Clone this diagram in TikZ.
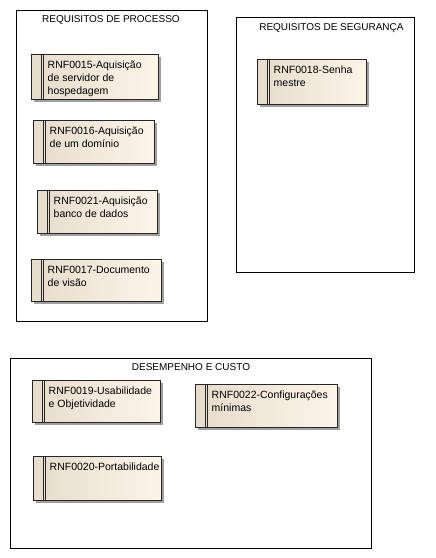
\documentclass[tikz,border=0pt]{standalone}
\usepackage{fontspec}
\setmainfont{Liberation Sans}
\usetikzlibrary{shadows}
\definecolor{reqL}{RGB}{230,220,204}
\definecolor{reqR}{RGB}{252,245,232}
\definecolor{shadowc}{RGB}{160,160,160}
\tikzset{
  pkg/.style={draw=black, line width=0.9pt, fill=white, anchor=north west, inner sep=0pt},
  pkgtitle/.style={font=\fontsize{10}{12}\selectfont, inner sep=0pt, anchor=north},
  req/.style={draw=black!85, line width=0.8pt, left color=reqL, right color=reqR,
    anchor=north west, inner sep=0pt,
    drop shadow={shadow xshift=3pt, shadow yshift=-3pt, fill=shadowc, opacity=1}},
  reqtext/.style={font=\fontsize{10.5}{13}\selectfont, align=left, inner sep=0pt, anchor=north west},
  bandline/.style={draw=black!85, line width=0.7pt}
}
\newcommand{\reqbox}[6]{%
  % #1 name, #2 x, #3 y, #4 width, #5 height, #6 text
  \node[req, minimum width=#4pt, minimum height=#5pt] (#1) at (#2,#3) {};
  \draw[bandline] ([xshift=10pt]#1.north west) -- ([xshift=10pt]#1.south west);
  \draw[bandline] ([xshift=12.5pt]#1.north west) -- ([xshift=12.5pt]#1.south west);
  \node[reqtext] (#1t) at ([xshift=16.5pt,yshift=-6.5pt]#1.north west) {#6};
}
\begin{document}
\begin{tikzpicture}[x=1pt,y=-1pt]
\useasboundingbox[fill=white] (0,0) rectangle (436,558);
% packages
\node[pkg, minimum width=191pt, minimum height=311pt] (p1) at (16,10) {};
\node[pkgtitle] (p1t) at ([xshift=-1pt,yshift=-5.5pt]p1.north) {REQUISITOS DE PROCESSO};
\node[pkg, minimum width=178pt, minimum height=255pt] (p2) at (236,17) {};
\node[pkgtitle] (p2t) at ([xshift=6pt,yshift=-6.5pt]p2.north) {REQUISITOS DE SEGURANÇA};
\node[pkg, minimum width=361pt, minimum height=190pt] (p3) at (10,358) {};
\node[pkgtitle] (p3t) at ([xshift=0pt,yshift=-5.5pt]p3.north) {DESEMPENHO E CUSTO};
% requirements
\reqbox{r15}{31}{54}{127}{45}{RNF0015-Aquisição\\de servidor de\\hospedagem}
\reqbox{r16}{33}{120}{121}{43}{RNF0016-Aquisição\\de um domínio}
\reqbox{r21}{37}{190}{120}{43}{RNF0021-Aquisição\\banco de dados}
\reqbox{r17}{31}{259}{130}{42}{RNF0017-Documento\\de visão}
\reqbox{r18}{257}{59}{109}{45}{RNF0018-Senha\\mestre}
\reqbox{r19}{32}{380}{128}{42}{RNF0019-Usabilidade\\e Objetividade}
\reqbox{r22}{195}{384}{142}{43}{RNF0022-Configurações\\mínimas}
\reqbox{r20}{33}{456}{128}{44}{RNF0020-Portabilidade}
\end{tikzpicture}
\end{document}
